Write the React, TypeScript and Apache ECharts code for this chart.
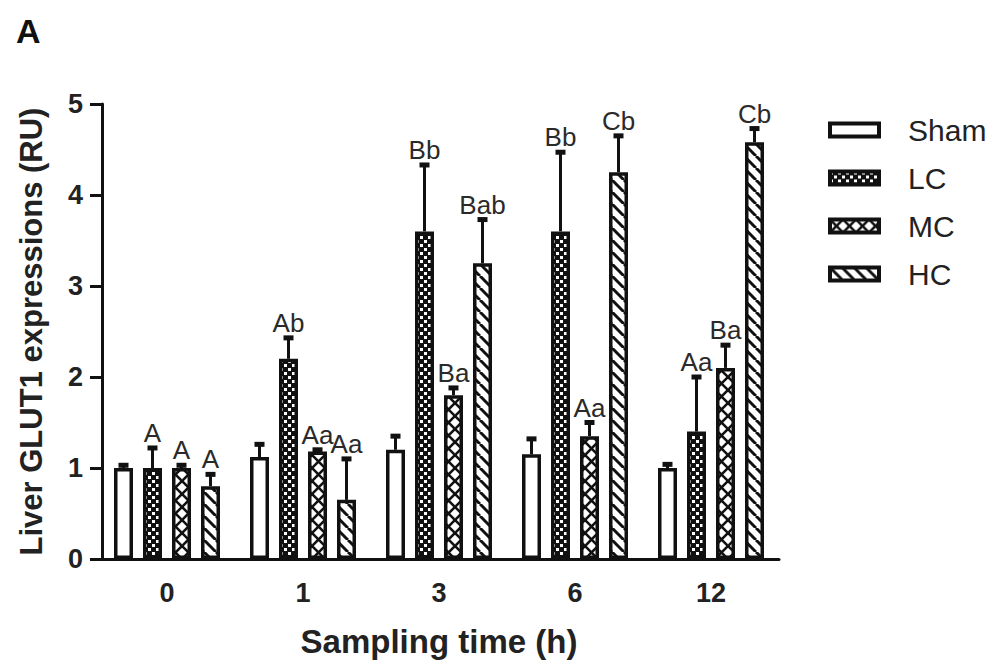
import React, { useEffect, useRef } from 'react';
import * as echarts from 'echarts';

const categories = ['0', '1', '3', '6', '12'];
const seriesNames = ['Sham', 'LC', 'MC', 'HC'];

const shamMean = [1.0, 1.12, 1.2, 1.15, 1.0];
const shamUpper = [1.03, 1.26, 1.35, 1.32, 1.04];
const lcMean = [1.0, 2.2, 3.6, 3.6, 1.4];
const lcUpper = [1.22, 2.43, 4.33, 4.47, 2.0];
const mcMean = [1.0, 1.18, 1.8, 1.35, 2.1];
const mcUpper = [1.03, 1.2, 1.88, 1.5, 2.35];
const hcMean = [0.8, 0.65, 3.25, 4.25, 4.58];
const hcUpper = [0.93, 1.1, 3.73, 4.65, 4.73];

const shamLetters = ['', '', '', '', ''];
const lcLetters = ['A', 'Ab', 'Bb', 'Bb', 'Aa'];
const mcLetters = ['A', 'Aa', 'Ba', 'Aa', 'Ba'];
const hcLetters = ['A', 'Aa', 'Bab', 'Cb', 'Cb'];

const yMin = 0;
const yMax = 5;
const yInterval = 1;

const FONT = '"Liberation Sans", Arial, Helvetica, sans-serif';
const INK = '#111';
const TEXT = '#222';
const BAR_WIDTH = 19;
const BAR_GAP_PX = 10;
const BORDER = 3.5;

function makePattern(kind: string) {
  const c = document.createElement('canvas');
  let w = 8;
  let h = 8;
  if (kind === 'mc') { w = 13; h = 13; }
  if (kind === 'hc') { w = 12; h = 12; }
  c.width = w;
  c.height = h;
  const ctx = c.getContext('2d')!;
  if (kind === 'lc') {
    ctx.fillStyle = INK;
    ctx.fillRect(0, 0, w, h);
    ctx.fillStyle = '#fff';
    ctx.fillRect(0, 0, 3, 3);
    ctx.fillRect(4, 4, 3, 3);
  } else if (kind === 'mc') {
    ctx.fillStyle = '#fff';
    ctx.fillRect(0, 0, w, h);
    ctx.strokeStyle = INK;
    ctx.lineWidth = 2.6;
    for (const k of [-w, 0, w]) {
      ctx.beginPath();
      ctx.moveTo(k, 0);
      ctx.lineTo(k + w, h);
      ctx.stroke();
      ctx.beginPath();
      ctx.moveTo(k + w, 0);
      ctx.lineTo(k, h);
      ctx.stroke();
    }
  } else {
    ctx.fillStyle = '#fff';
    ctx.fillRect(0, 0, w, h);
    ctx.strokeStyle = INK;
    ctx.lineWidth = 3;
    for (const k of [-w, 0, w]) {
      ctx.beginPath();
      ctx.moveTo(k, 0);
      ctx.lineTo(k + w, h);
      ctx.stroke();
    }
  }
  return { image: c.toDataURL(), repeat: 'repeat', imageWidth: w, imageHeight: h };
}

export default function App() {
  const ref = useRef<HTMLDivElement>(null);

  useEffect(() => {
    if (!ref.current) return;
    const chart = echarts.init(ref.current, null, { renderer: 'svg' });

    const means = [shamMean, lcMean, mcMean, hcMean];
    const uppers = [shamUpper, lcUpper, mcUpper, hcUpper];
    const letters = [shamLetters, lcLetters, mcLetters, hcLetters];
    const fills: any[] = ['#fff', makePattern('lc'), makePattern('mc'), makePattern('hc')];

    const errData: number[][] = [];
    means.forEach((arr, s) => arr.forEach((v, i) => errData.push([i, v, uppers[s][i], s])));
    const step = BAR_WIDTH + BAR_GAP_PX;

    const barSeries = seriesNames.map((name, s) => ({
      type: 'bar',
      name,
      data: means[s],
      barWidth: BAR_WIDTH,
      barGap: (BAR_GAP_PX / BAR_WIDTH) * 100 + '%',
      itemStyle: { color: fills[s], borderColor: INK, borderWidth: BORDER },
      emphasis: { disabled: true },
      z: 2,
    }));

    chart.setOption({
      animation: false,
      grid: { left: 99, right: 227, top: 104, bottom: 111 },
      legend: {
        data: seriesNames,
        orient: 'vertical',
        left: 828,
        top: 115,
        padding: 0,
        icon: 'rect',
        itemWidth: 49,
        itemHeight: 13,
        itemGap: 18,
        selectedMode: false,
        itemStyle: { borderColor: INK, borderWidth: 4 },
        textStyle: { fontSize: 30, color: TEXT, fontFamily: FONT, lineHeight: 28, padding: [0, 0, 0, 24] },
      },
      xAxis: {
        type: 'category',
        data: categories,
        axisLine: { lineStyle: { color: INK, width: 3 } },
        axisTick: { alignWithLabel: true, length: 12, lineStyle: { color: INK, width: 3 } },
        axisLabel: { fontSize: 27, fontWeight: 'bold', color: TEXT, fontFamily: FONT, margin: 20 },
        name: 'Sampling time (h)',
        nameLocation: 'middle',
        nameGap: 66,
        nameTextStyle: { fontSize: 33, fontWeight: 'bold', color: TEXT, fontFamily: FONT },
      },
      yAxis: {
        type: 'value',
        min: yMin,
        max: yMax,
        interval: yInterval,
        offset: -3,
        axisLine: { show: true, lineStyle: { color: INK, width: 3 } },
        axisTick: { show: true, length: 12, lineStyle: { color: INK, width: 3 } },
        axisLabel: { fontSize: 27, fontWeight: 'bold', color: TEXT, fontFamily: FONT, margin: 19 },
        splitLine: { show: false },
        name: 'Liver GLUT1 expressions (RU)',
        nameLocation: 'middle',
        nameRotate: 90,
        nameGap: 55,
        nameTextStyle: { fontSize: 31, fontWeight: 'bold', color: TEXT, fontFamily: FONT },
      },
      graphic: [
        {
          type: 'text',
          left: 16,
          top: 14,
          style: { text: 'A', font: 'bold 34px "Liberation Sans", Arial, sans-serif', fill: INK },
        },
      ],
      series: [
        ...barSeries,
        {
          type: 'custom',
          name: 'errors',
          data: errData,
          encode: { x: 0, y: 2 },
          z: 3,
          renderItem: (params: any, api: any) => {
            const i = api.value(0);
            const v = api.value(1);
            const up = api.value(2);
            const s = api.value(3);
            const base = api.coord([i, v]);
            const top = api.coord([i, up]);
            const x = base[0] + (s - 1.5) * step;
            const label = letters[s][i];
            return {
              type: 'group',
              children: [
                { type: 'line', shape: { x1: x, y1: base[1], x2: x, y2: top[1] }, style: { stroke: INK, lineWidth: 3 } },
                { type: 'line', shape: { x1: x - 5, y1: top[1], x2: x + 5, y2: top[1] }, style: { stroke: INK, lineWidth: 5 } },
                {
                  type: 'text',
                  style: {
                    text: label, x, y: top[1] - 5, align: 'center', verticalAlign: 'bottom',
                    fontSize: 26, lineHeight: 20, fontFamily: FONT, fill: '#2a2a2a',
                  },
                },
              ],
            };
          },
        },
      ],
    });

    return () => chart.dispose();
  }, []);

  return <div ref={ref} style={{ position: 'fixed', left: 0, top: 0, width: 1006, height: 670, background: '#fff' }} />;
}
